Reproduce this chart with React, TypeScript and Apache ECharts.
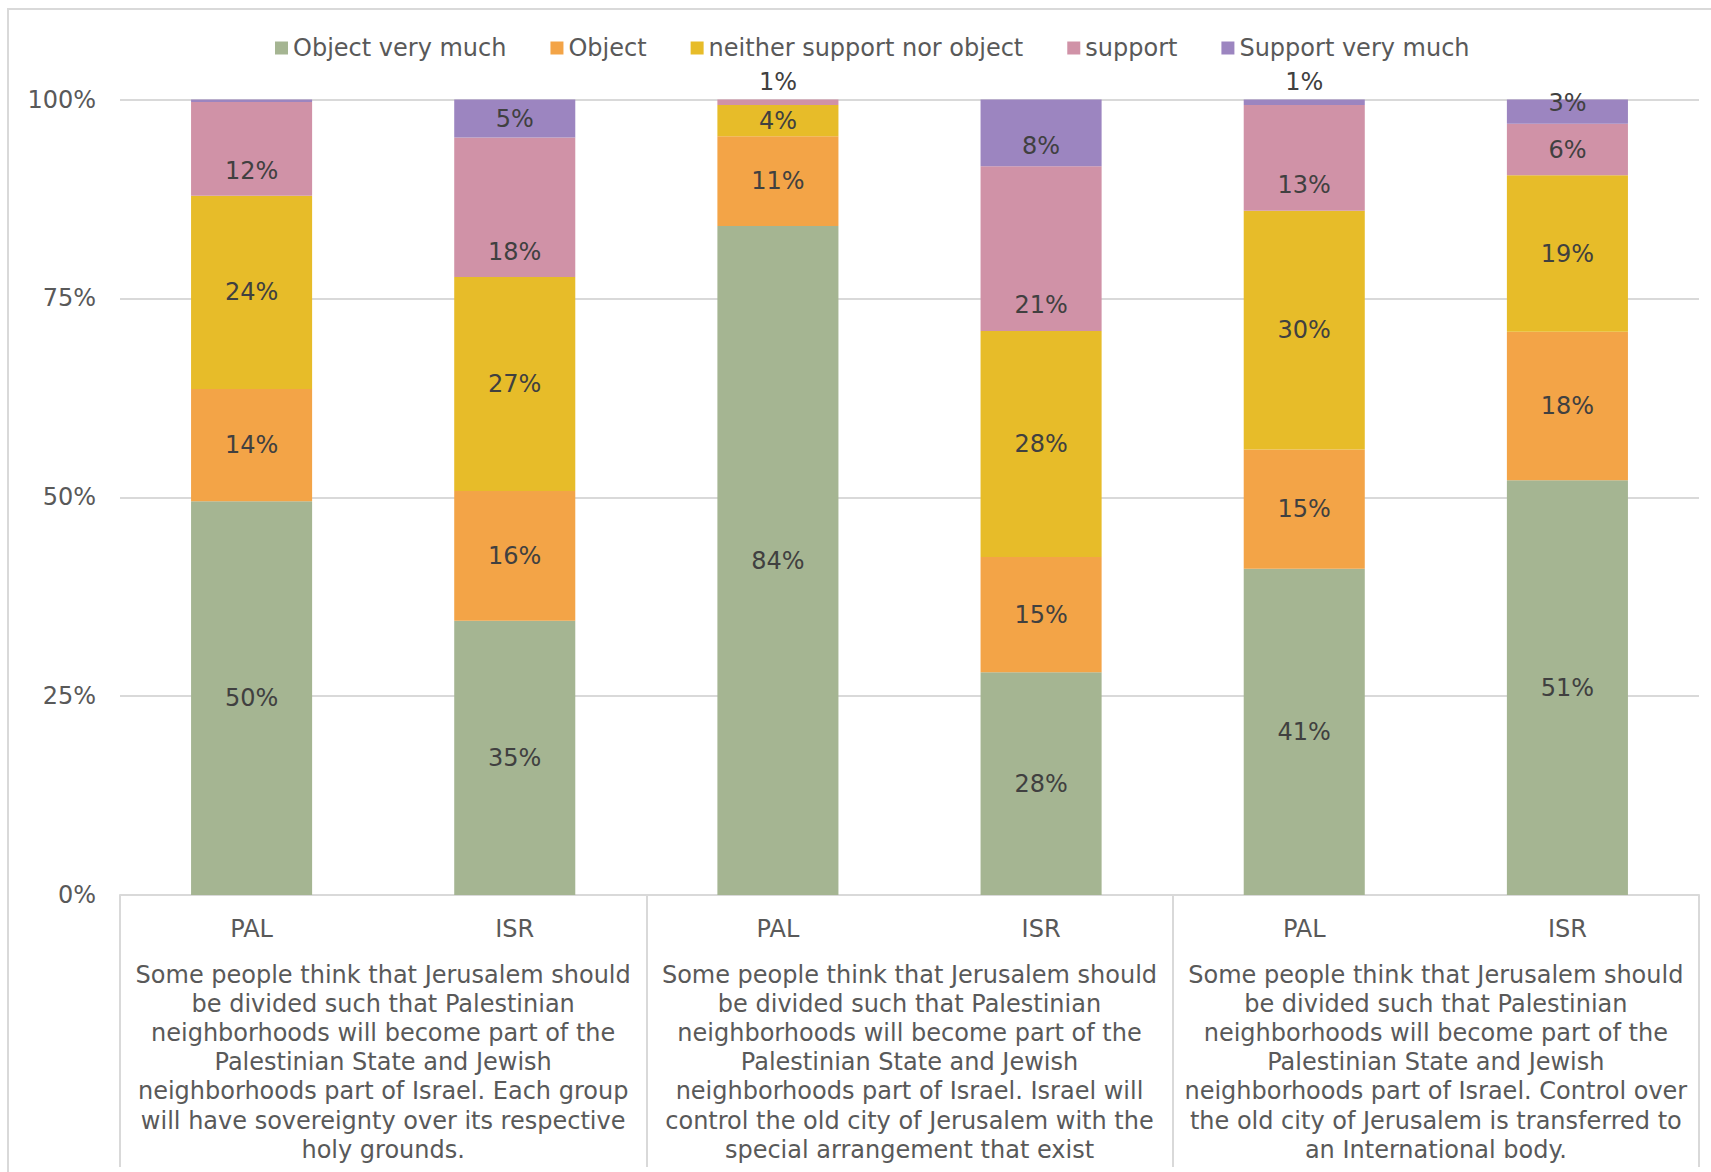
import React, { useEffect, useRef } from "react";
import * as echarts from "echarts";

const categories = ["PAL", "ISR", "PAL", "ISR", "PAL", "ISR"];
const groupLabels = [
  "Some people think that Jerusalem should\nbe divided such that Palestinian\nneighborhoods will become part of the\nPalestinian State and Jewish\nneighborhoods part of Israel. Each group\nwill have sovereignty over its respective\nholy grounds.",
  "Some people think that Jerusalem should\nbe divided such that Palestinian\nneighborhoods will become part of the\nPalestinian State and Jewish\nneighborhoods part of Israel. Israel will\ncontrol the old city of Jerusalem with the\nspecial arrangement that exist",
  "Some people think that Jerusalem should\nbe divided such that Palestinian\nneighborhoods will become part of the\nPalestinian State and Jewish\nneighborhoods part of Israel. Control over\nthe old city of Jerusalem is transferred to\nan International body.",
];
const seriesNames = [
  "Object very much",
  "Object",
  "neither support nor object",
  "support",
  "Support very much",
];
const objectVeryMuch = [49.5, 34.6, 84.0, 28.0, 41.0, 51.4];
const objectVals = [14.1, 16.4, 11.3, 14.5, 15.0, 18.4];
const neitherVals = [24.3, 27.0, 3.9, 28.4, 30.0, 19.4];
const supportVals = [11.8, 17.6, 0.7, 20.7, 13.3, 6.4];
const supportVeryMuch = [0.3, 4.8, 0, 8.4, 0.7, 3.0];
const yTicks = [0, 25, 50, 75, 100];

const colors = ["#A5B592", "#F3A447", "#E7BC29", "#D092A7", "#9C85C0"];
const FONT = "DejaVu Sans";

export default function App() {
  const ref = useRef<HTMLDivElement>(null);
  useEffect(() => {
    if (!ref.current) return;
    const chart = echarts.init(ref.current, null, { renderer: "svg" });
    const raw = [objectVeryMuch, objectVals, neitherVals, supportVals, supportVeryMuch];
    const totals = categories.map((_, i) => raw.reduce((s, arr) => s + arr[i], 0));

    // label nudges as placed in the original chart (series index, category index, dy px)
    const labelNudges: [number, number, number][] = [
      [3, 0, 22],
      [3, 1, 45],
      [3, 3, 56],
      [3, 4, 27],
      [4, 3, 13],
      [4, 5, -9],
    ];

    const labelFor = (si: number, ci: number) => {
      const v = raw[si][ci];
      if (v < 0.5) return { show: false };
      if (v < 2) return { position: "top", distance: 6 };
      const n = labelNudges.find((x) => x[0] === si && x[1] === ci);
      if (n) return { offset: [0, n[2]] };
      return {};
    };

    const series = raw.map((arr, si) => ({
      name: seriesNames[si],
      type: "bar",
      stack: "total",
      barWidth: "46%",
      xAxisIndex: 0,
      itemStyle: { color: colors[si] },
      label: {
        show: true,
        position: "inside",
        color: "#404040",
        fontSize: 24,
        fontFamily: FONT,
        formatter: (p: any) => Math.round(p.data.raw) + "%",
      },
      data: arr.map((v, ci) => ({
        value: (v / totals[ci]) * 100,
        raw: v,
        label: labelFor(si, ci),
      })),
    }));

    chart.setOption({
      animation: false,
      color: colors,
      textStyle: { fontFamily: FONT },
      graphic: [
        {
          type: "rect",
          z: -10,
          shape: { x: 8, y: 9, width: 1800, height: 1300 },
          style: { fill: "none", stroke: "#D9D9D9", lineWidth: 2 },
        },
      ],
      legend: {
        left: 270,
        top: 31,
        icon: "rect",
        itemWidth: 13,
        itemHeight: 13,
        itemGap: 44,
        textStyle: { color: "#595959", fontSize: 24, fontFamily: FONT },
        data: seriesNames,
      },
      grid: { left: 120, right: 12, top: 99.5, bottom: 277 },
      xAxis: [
        {
          type: "category",
          data: categories,
          position: "bottom",
          axisLine: { show: true, lineStyle: { color: "#D9D9D9", width: 2 } },
          axisTick: { show: false },
          axisLabel: {
            interval: 0,
            margin: 19,
            color: "#595959",
            fontSize: 24,
            lineHeight: 29,
            fontFamily: FONT,
          },
        },
        {
          type: "category",
          data: groupLabels,
          position: "bottom",
          axisLine: { show: false },
          axisTick: {
            show: true,
            interval: 0,
            length: 272,
            lineStyle: { color: "#D9D9D9", width: 2 },
          },
          axisLabel: {
            interval: 0,
            margin: 65,
            color: "#595959",
            fontSize: 24,
            lineHeight: 29.2,
            fontFamily: FONT,
            align: "center",
          },
        },
      ],
      yAxis: {
        type: "value",
        min: yTicks[0],
        max: yTicks[yTicks.length - 1],
        interval: 25,
        axisLine: { show: false },
        axisTick: { show: false },
        splitLine: { lineStyle: { color: "#D9D9D9", width: 2 } },
        axisLabel: {
          margin: 24,
          color: "#595959",
          fontSize: 24,
          fontFamily: FONT,
          formatter: "{value}%",
        },
      },
      series,
    });
    return () => chart.dispose();
  }, []);
  return (
    <div
      ref={ref}
      style={{ position: "absolute", left: 0, top: 0, width: 1711, height: 1172, background: "#fff" }}
    />
  );
}
